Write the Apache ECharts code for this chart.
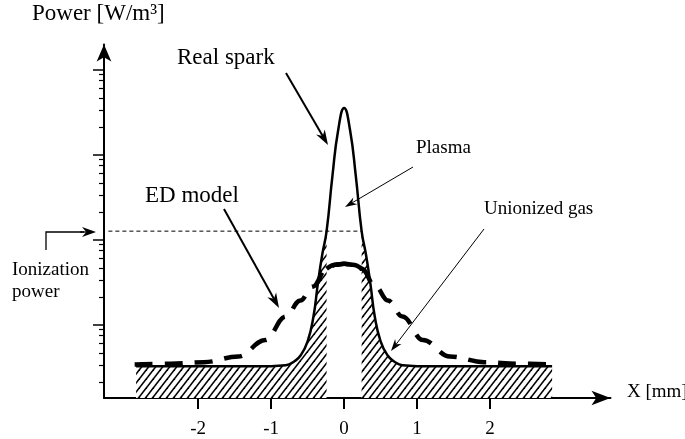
<!DOCTYPE html>
<html>
<head>
<meta charset="utf-8">
<script src="https://cdn.jsdelivr.net/npm/echarts@6/dist/echarts.min.js"></script>
<style>
html, body { margin: 0; padding: 0; background: #fff; }
#chart { width: 685px; height: 439px; }
</style>
</head>
<body>
<div id="chart"></div>
<script>
// ---- values (x in mm, power in W/m3, log scale) ----
const sparkX = [-2.85, -1.0, -0.8, -0.68, -0.6, -0.5, -0.42, -0.36, -0.3, -0.24, -0.16, -0.08, 0,
                0.08, 0.16, 0.24, 0.3, 0.36, 0.42, 0.5, 0.6, 0.68, 0.8, 1.0, 2.85];
const sparkY = [3.23, 3.23, 3.3, 3.69, 4.28, 6.33, 12.4, 30.2, 65.9, 125, 560, 1961, 3517,
                1961, 560, 125, 65.9, 30.2, 12.4, 6.33, 4.28, 3.69, 3.3, 3.23, 3.23];

const edX = [-2.87, -2.38, -1.92, -1.45, -1.08, -0.8, -0.6, -0.43, -0.24, -0.12, 0, 0.12, 0.24, 0.43, 0.6, 0.8, 1.08, 1.45, 1.92, 2.38, 2.87];
const edY = [3.38, 3.45, 3.6, 4.19, 6.55, 12.4, 19.1, 27.8, 45.2, 50.3, 51.7, 50.3, 45.2, 27.8, 19.1, 12.4, 6.55, 4.19, 3.6, 3.45, 3.38];

const ionX = [-3.23, 0.24];
const ionY = [125, 125];

const xTicks = [-2, -1, 0, 1, 2];
const yMajorTicks = [10, 100, 1000, 10000];
const yMinorSteps = [0.87, 0.75, 0.6, 0.46, 0.33, 0.21];
const yMinorTicks = yMajorTicks.flatMap(m => yMinorSteps.map(s => m * s));

const FONT = 'Liberation Serif';
const plasmaEdge = 0.24;

const pts = (xs, ys) => xs.map((x, i) => [x, ys[i]]);
const spark = pts(sparkX, sparkY);
const ed = pts(edX, edY);

// diagonal hatch on white
function hatchPattern() {
    const c = document.createElement('canvas');
    c.width = 7; c.height = 9;
    const g = c.getContext('2d');
    g.fillStyle = '#fff';
    g.fillRect(0, 0, 7, 9);
    g.strokeStyle = '#000';
    g.lineWidth = 1.6;
    for (const dx of [-7, 0, 7]) {
        g.beginPath();
        g.moveTo(dx - 7, 18);
        g.lineTo(dx + 14, -9);
        g.stroke();
    }
    return c;
}
const hatch = { image: hatchPattern(), repeat: 'repeat' };

function arrow(x1, y1, x2, y2, w, head, half) {
    const a = Math.atan2(y2 - y1, x2 - x1);
    const cos = Math.cos(a), sin = Math.sin(a);
    const bx = x2 - head * cos, by = y2 - head * sin;
    const nx = x2 - head * 0.7 * cos, ny = y2 - head * 0.7 * sin;
    return [
        { type: 'line', shape: { x1, y1, x2: nx, y2: ny }, style: { stroke: '#000', lineWidth: w } },
        { type: 'polygon', shape: { points: [[x2, y2], [bx - sin * half, by + cos * half], [nx, ny], [bx + sin * half, by - cos * half]] },
          style: { fill: '#000' } }
    ];
}

function label(text, x, y, size) {
    return { type: 'text', x, y, style: { text, fill: '#000', font: size + 'px "' + FONT + '"', textVerticalAlign: 'middle' } };
}

const chart = echarts.init(document.getElementById('chart'));

const yBase = {
    type: 'log', logBase: 10, min: 1.363, max: 19600, position: 'left',
    axisLabel: { show: false }, splitLine: { show: false }
};

chart.setOption({
    animation: false,
    backgroundColor: '#fff',
    grid: { left: 104, right: 74.5, top: 44.5, bottom: 39 },
    xAxis: {
        type: 'value', min: -3.29, max: 3.65,
        axisLine: { show: true, onZero: false, symbol: ['none', 'arrow'], symbolSize: [11, 19], lineStyle: { color: '#000', width: 2 } },
        axisTick: { show: true, customValues: xTicks, length: 11, lineStyle: { color: '#000', width: 2 } },
        axisLabel: { customValues: xTicks, margin: 22, color: '#000', fontFamily: FONT, fontSize: 19 },
        splitLine: { show: false }
    },
    yAxis: [
        Object.assign({}, yBase, {
            axisLine: { show: true, onZero: false, symbol: ['none', 'arrow'], symbolSize: [11, 17], lineStyle: { color: '#000', width: 2 } },
            axisTick: { show: true, customValues: yMajorTicks, length: 11, lineStyle: { color: '#000', width: 1.5 } }
        }),
        Object.assign({}, yBase, {
            axisLine: { show: false, onZero: false },
            axisTick: { show: true, customValues: yMinorTicks, length: 5, lineStyle: { color: '#000', width: 1.2 } }
        })
    ],
    series: [
        {   // ED model, dashed
            type: 'line', data: ed, symbol: 'none', smooth: 0.4, smoothMonotone: 'x',
            lineStyle: { color: '#000', width: 4.5, type: [18, 12] }
        },
        {   // ED model, arch inside plasma
            type: 'line', data: ed.filter(p => Math.abs(p[0]) <= plasmaEdge), symbol: 'none', smooth: 0.4, smoothMonotone: 'x',
            lineStyle: { color: '#000', width: 4.5 }
        },
        {   // unionized gas, hatched (left)
            type: 'line', data: spark.filter(p => p[0] <= -plasmaEdge), symbol: 'none', smooth: 0.5,
            lineStyle: { width: 0 }, areaStyle: { color: hatch, opacity: 1, origin: 'start' }
        },
        {   // unionized gas, hatched (right)
            type: 'line', data: spark.filter(p => p[0] >= plasmaEdge), symbol: 'none', smooth: 0.5,
            lineStyle: { width: 0 }, areaStyle: { color: hatch, opacity: 1, origin: 'start' }
        },
        {   // real spark
            type: 'line', data: spark, symbol: 'none', smooth: 0.5,
            lineStyle: { color: '#000', width: 2.5 }
        },
        {   // ionization power level
            type: 'line', data: pts(ionX, ionY), symbol: 'none',
            lineStyle: { color: '#000', width: 1, type: [4, 3] }
        }
    ],
    graphic: [
        label('Power [W/m\u00b3]', 32, 14, 23),
        label('Real spark', 177, 58, 23),
        label('ED model', 145, 196, 23),
        label('Plasma', 416, 148, 19),
        label('Unionized gas', 484, 209, 19),
        label('Ionization', 12, 270, 19),
        label('power', 12, 292, 19),
        label('X [mm]', 627, 392, 19),
        ...arrow(286, 73, 328, 145, 2, 15, 5),
        ...arrow(224, 209, 279, 308, 2, 15, 5),
        ...arrow(413, 167, 345, 207, 1, 12, 4),
        ...arrow(484, 229, 391, 351, 1, 12, 4),
        { type: 'polyline', shape: { points: [[46, 250], [46, 232], [84, 232]] }, style: { stroke: '#000', lineWidth: 1.3, fill: null } },
        ...arrow(80, 232, 96, 232, 1.3, 14, 5)
    ]
});
</script>
</body>
</html>
